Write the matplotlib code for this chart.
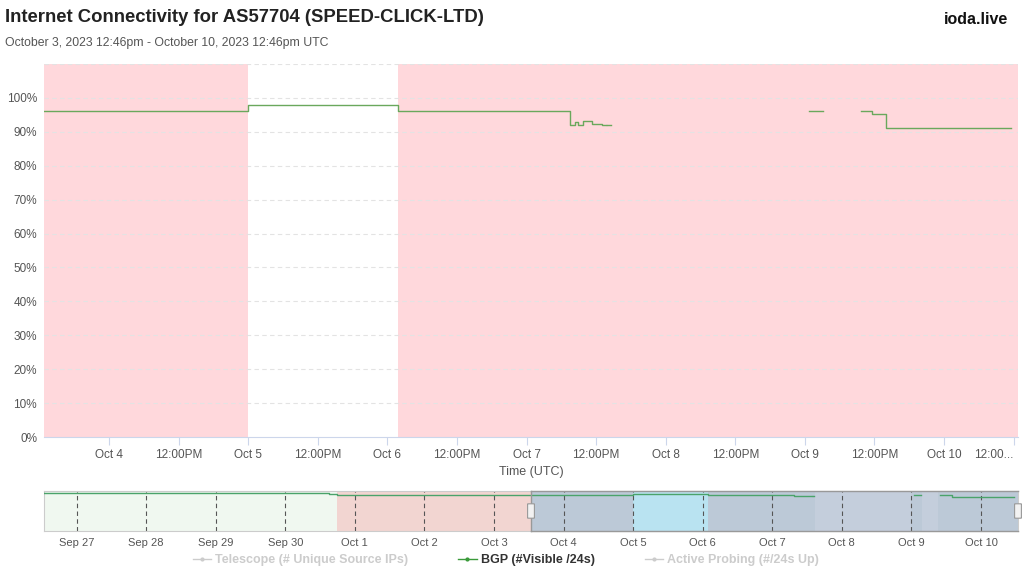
import numpy as np
import pandas as pd
import matplotlib
matplotlib.use("Agg")
import matplotlib.pyplot as plt
from matplotlib.lines import Line2D
from matplotlib.patches import FancyBboxPatch

plt.rcParams['font.family'] = ['Liberation Sans', 'DejaVu Sans']

# BGP series, % of max (step values, NaN = no data)
bgp_time = ["2023-10-03 12:46", "2023-10-05 00:00", "2023-10-06 01:45", "2023-10-07 07:30",
            "2023-10-07 08:20", "2023-10-07 08:50", "2023-10-07 09:40", "2023-10-07 11:20",
            "2023-10-07 13:00", "2023-10-07 13:40", "2023-10-07 13:55", "2023-10-07 14:30",
            "2023-10-09 00:45", "2023-10-09 03:10", "2023-10-09 09:45", "2023-10-09 11:35",
            "2023-10-09 14:00", "2023-10-10 11:30"]
bgp_pct = [96.0, 98.0, 96.0, 92.0, 93.0, 92.0, 93.3, 92.3, 92.0, np.nan, 92.0, np.nan,
           96.0, np.nan, 96.0, 95.2, 91.0, np.nan]

# earlier history shown only in the navigator
hist_time = ["2023-09-26 12:46", "2023-09-30 15:00", "2023-09-30 18:00"]
hist_pct = [100.0, 98.0, 96.0]

# outage shading (main chart)
outage_start = ["2023-10-03 12:46", "2023-10-06 01:50"]
outage_end = ["2023-10-05 00:00", "2023-10-10 12:46"]

# navigator background bands
nav_band_start = ["2023-09-26 12:46", "2023-09-30 17:50", "2023-10-03 12:46", "2023-10-05 00:00",
                  "2023-10-06 01:45", "2023-10-07 14:40", "2023-10-09 00:00", "2023-10-09 03:30",
                  "2023-10-09 09:00"]
nav_band_end = nav_band_start[1:] + ["2023-10-10 12:46"]
nav_band_color = ['#f0f8f0', '#f2d5d1', '#bcc9d7', '#b9e3f1', '#bcc9d7', '#c4cedc',
                  '#bcc9d7', '#c4cedc', '#bcc9d7']

main_ticks = ["2023-10-04 00:00", "2023-10-04 12:00", "2023-10-05 00:00", "2023-10-05 12:00",
              "2023-10-06 00:00", "2023-10-06 12:00", "2023-10-07 00:00", "2023-10-07 12:00",
              "2023-10-08 00:00", "2023-10-08 12:00", "2023-10-09 00:00", "2023-10-09 12:00",
              "2023-10-10 00:00", "2023-10-10 12:00"]
main_labels = ["Oct 4", "12:00PM", "Oct 5", "12:00PM", "Oct 6", "12:00PM", "Oct 7", "12:00PM",
               "Oct 8", "12:00PM", "Oct 9", "12:00PM", "Oct 10", "12:00..."]
nav_labels = ["Sep 27", "Sep 28", "Sep 29", "Sep 30", "Oct 1", "Oct 2", "Oct 3",
              "Oct 4", "Oct 5", "Oct 6", "Oct 7", "Oct 8", "Oct 9", "Oct 10"]
nav_ticks = pd.date_range("2023-09-27", "2023-10-10", freq="D")

t0 = pd.Timestamp("2023-10-03 12:46")
t1 = pd.Timestamp("2023-10-10 12:46")
n0 = pd.Timestamp("2023-09-26 12:46")

green = '#6aa85c'
pink = '#ffd8dc'
grey_txt = '#555555'

fig = plt.figure(figsize=(10.24, 5.73), dpi=100)

# main chart
ax = fig.add_axes([44/1024, (573-437)/573, 974/1024, 373/573])
for s, e in zip(outage_start, outage_end):
    ax.axvspan(pd.Timestamp(s), pd.Timestamp(e), color=pink, lw=0, zorder=0)
ax.plot(pd.to_datetime(bgp_time), bgp_pct, color=green, lw=1.0, drawstyle='steps-post', zorder=3)
ax.set_xlim(t0, t1)
ax.set_ylim(0, 110)
ax.set_yticks(range(0, 101, 10))
ax.set_yticklabels([f"{v}%" for v in range(0, 101, 10)])
for v in range(10, 111, 10):
    ax.axhline(v, color='#e3e3e3', lw=0.8, ls=(0, (4, 3)), zorder=1)
ax.set_xticks(pd.to_datetime(main_ticks))
ax.set_xticklabels(main_labels)
ax.get_xticklabels()[-1].set_horizontalalignment('right')
ax.tick_params(axis='y', length=0, labelsize=8.5, labelcolor=grey_txt, pad=5)
ax.tick_params(axis='x', length=6, color='#ccd6eb', labelsize=8.5, labelcolor=grey_txt, pad=3)
for sp in ['top', 'right', 'left']:
    ax.spines[sp].set_visible(False)
ax.spines['bottom'].set_color('#ccd6eb')
ax.set_xlabel("Time (UTC)", fontsize=9, color=grey_txt, labelpad=3)

# navigator
nav = fig.add_axes([44/1024, (573-531)/573, 974/1024, 40/573])
for s, e, c in zip(nav_band_start, nav_band_end, nav_band_color):
    nav.axvspan(pd.Timestamp(s), pd.Timestamp(e), color=c, lw=0, zorder=0)
nav_t = pd.to_datetime(hist_time + bgp_time)
nav_v = hist_pct + bgp_pct
nav.plot(nav_t, nav_v, color='#4aa36a', lw=1.0, drawstyle='steps-post', zorder=3)
for d in nav_ticks:
    nav.axvline(d, color='#555555', lw=0.8, ls=(0, (4, 3)), zorder=2)
nav.set_xlim(n0, t1)
nav.set_ylim(5, 105)
nav.set_yticks([])
nav.set_xticks(nav_ticks)
nav.set_xticklabels(nav_labels)
nav.tick_params(axis='x', length=0, labelsize=8, labelcolor=grey_txt, pad=5)
for sp in nav.spines.values():
    sp.set_color('#cccccc')
    sp.set_linewidth(0.8)
# selection outline and handles
xs = (t0 - n0) / (t1 - n0)
nav.plot([xs, 1], [1, 1], transform=nav.transAxes, color='#999999', lw=1, clip_on=False, zorder=4)
nav.plot([xs, 1], [0, 0], transform=nav.transAxes, color='#999999', lw=1, clip_on=False, zorder=4)
nav.plot([xs, xs], [0, 1], transform=nav.transAxes, color='#999999', lw=1, clip_on=False, zorder=4)
for hx in [xs, 1.0]:
    nav.add_patch(FancyBboxPatch((hx - 0.0035, 0.32), 0.007, 0.36, boxstyle="round,pad=0,rounding_size=0.002",
                                 transform=nav.transAxes, fc='#f2f2f2', ec='#999999', lw=0.8,
                                 clip_on=False, zorder=5))

# titles
fig.text(5/1024, 1 - 18/573, "Internet Connectivity for AS57704 (SPEED-CLICK-LTD)",
         fontsize=13.3, fontweight='bold', color='#222222', va='center', ha='left')
fig.text(5/1024, 1 - 43/573, "October 3, 2023 12:46pm - October 10, 2023 12:46pm UTC",
         fontsize=8.8, color=grey_txt, va='center', ha='left')
fig.text(1008/1024, 1 - 20/573, "ioda.live", fontsize=11.5, fontweight='bold',
         color='#111111', va='center', ha='right')

# legend
handles = [Line2D([], [], color='#cccccc', lw=1, marker='o', markersize=2),
           Line2D([], [], color='#3a9a3a', lw=1, marker='o', markersize=2),
           Line2D([], [], color='#cccccc', lw=1, marker='o', markersize=2)]
labels = ["Telescope (# Unique Source IPs)", "BGP (#Visible /24s)", "Active Probing (#/24s Up)"]
leg = fig.legend(handles, labels, loc='center', bbox_to_anchor=(506/1024, 1 - 560/573), ncol=3,
                 frameon=False, handlelength=1.45, handletextpad=0.35, columnspacing=4.0,
                 prop={'weight': 'bold', 'size': 9})
for txt, c in zip(leg.get_texts(), ['#cccccc', '#333333', '#cccccc']):
    txt.set_color(c)

fig.savefig("out.png", dpi=100)
